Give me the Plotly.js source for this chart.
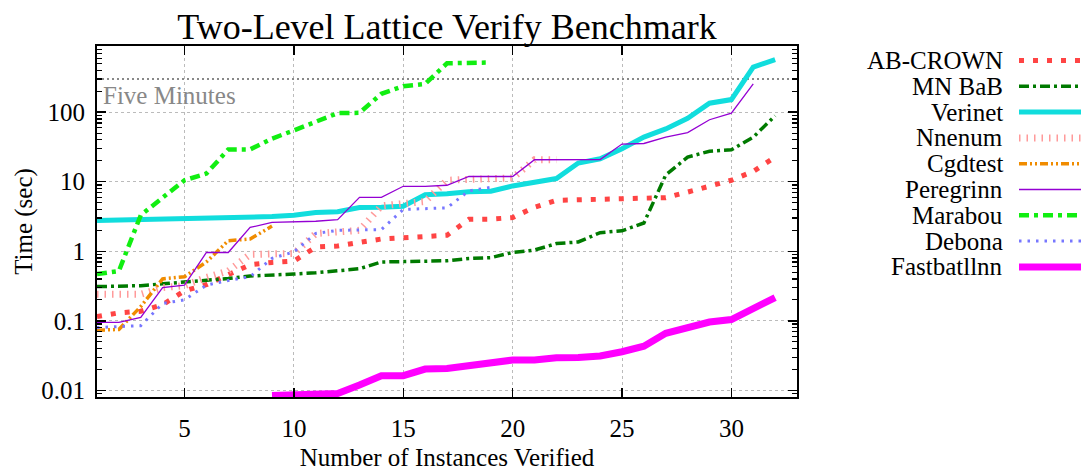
<!DOCTYPE html>
<html>
<head>
<meta charset="utf-8">
<script src="https://cdn.plot.ly/plotly-3.0.1.min.js"></script>
<style>
  html, body { margin: 0; padding: 0; background: #ffffff; }
  #chart { width: 1085px; height: 471px; }
</style>
</head>
<body>
<div id="chart"></div>
<script>
// ---------------- data ----------------
const instances = [1, 2, 3, 4, 5, 6, 7, 8, 9, 10, 11, 12, 13, 14, 15, 16,
                   17, 18, 19, 20, 21, 22, 23, 24, 25, 26, 27, 28, 29, 30, 31, 32];

const abCrown = [0.115, 0.13, 0.137, 0.17, 0.27, 0.33, 0.46, 0.64, 0.69, 0.72, 1.15, 1.19,
                 1.34, 1.5, 1.56, 1.6, 1.7, 2.88, 2.9, 3.05, 4.3, 5.4, 5.5, 5.55, 5.6, 5.6,
                 5.9, 7.1, 8.7, 10.5, 14.1, 22.6];
const mnBab = [0.31, 0.315, 0.32, 0.34, 0.36, 0.38, 0.405, 0.44, 0.45, 0.47, 0.49, 0.53,
               0.56, 0.70, 0.71, 0.72, 0.73, 0.785, 0.81, 0.96, 1.04, 1.29, 1.36, 1.85,
               1.97, 2.55, 12.5, 22.6, 27.5, 28.8, 43.8, 89];
const verinet = [2.76, 2.8, 2.82, 2.85, 2.88, 2.92, 2.95, 3.0, 3.15, 3.29, 3.6, 3.7,
                 4.25, 4.3, 4.43, 6.5, 6.7, 7.2, 7.3, 8.7, 9.7, 11.1, 18.6, 21.4,
                 29.8, 43.8, 57.6, 82, 135, 152, 445, 573];
const nnenum = [0.24, 0.24, 0.24, 0.3, 0.32, 0.42, 0.52, 0.9, 0.92, 0.93, 1.8, 1.9,
                2.0, 4.5, 4.8, 5.2, 10.5, 11.1, 11.1, 11.3, 20.7, 20.7];
const cgdtest = [0.073, 0.075, 0.16, 0.4, 0.43, 0.7, 1.42, 1.5, 2.3];
const peregrinn = [0.095, 0.095, 0.112, 0.30, 0.325, 0.96, 0.96, 2.2, 2.6, 2.67, 2.7, 2.85,
                   5.95, 5.95, 8.6, 8.6, 8.9, 11.9, 11.9, 11.9, 20.7, 20.7, 20.7, 20.9,
                   34.8, 35.5, 43.8, 51, 78, 97, 255];
const marabou = [0.47, 0.52, 3.3, 6.0, 10.5, 13.1, 29.2, 29.2, 41.7, 54.8, 72, 97,
                 98, 184, 237, 255, 505, 520, 520];
const debona = [0.08, 0.083, 0.085, 0.177, 0.2, 0.325, 0.38, 0.43, 0.79, 0.98, 1.8, 2.0,
                2.0, 2.05, 4.0, 4.1, 4.2, 7.4, 8.3];
const fastbatStart = 9;
const fastbatllnn = [0.0084, 0.0086, 0.0087, 0.009, 0.0119, 0.0162, 0.0162, 0.0202,
                     0.0206, 0.0227, 0.0238, 0.0272, 0.0272, 0.0294, 0.0297, 0.0311,
                     0.0358, 0.043, 0.066, 0.078, 0.096, 0.104, 0.15, 0.216];

const fiveMinutes = 300;
const fiveMinutesLabel = 'Five Minutes';

const yTickVals = [0.01, 0.1, 1, 10, 100];
const yTickText = ['0.01', '0.1', '1', '10', '100'];

const seriesNames = ['AB-CROWN', 'MN BaB', 'Verinet', 'Nnenum', 'Cgdtest',
                     'Peregrinn', 'Marabou', 'Debona', 'Fastbatllnn'];

// ---------------- styles ----------------
const styles = [
  { color: '#ff4444', width: 5,   dash: '5px,9px' },
  { color: '#007a00', width: 3.5, dash: '10px,4px,3px,4px' },
  { color: '#11dddd', width: 5,   dash: 'solid' },
  { color: '#ff9a9a', width: 7,   dash: '1.5px,6px' },
  { color: '#f08c00', width: 3.5, dash: '8px,3px,2px,3px,2px,3px' },
  { color: '#9400d3', width: 1.3, dash: 'solid' },
  { color: '#11ee11', width: 4.5, dash: '10px,5px,4px,5px' },
  { color: '#7777ff', width: 3,   dash: '2.5px,6px' },
  { color: '#ff00ff', width: 7,   dash: 'solid' }
];

const seriesData = [abCrown, mnBab, verinet, nnenum, cgdtest, peregrinn, marabou, debona, fastbatllnn];
const seriesStart = [1, 1, 1, 1, 1, 1, 1, 1, fastbatStart];

const xRange = [1, 33];
const FONT = '"Liberation Serif", "DejaVu Serif", serif';

const traces = [];
// five minute reference line across the x range
traces.push({
  x: xRange, y: [fiveMinutes, fiveMinutes],
  mode: 'lines', showlegend: false, hoverinfo: 'skip',
  line: { color: '#888888', width: 2, dash: '2px,3px' }
});

seriesData.forEach((vals, i) => {
  const start = seriesStart[i];
  const xs = instances.slice(start - 1, start - 1 + vals.length);
  traces.push({
    x: xs, y: vals, name: seriesNames[i],
    mode: 'lines', type: 'scatter',
    line: { color: styles[i].color, width: styles[i].width, dash: styles[i].dash, shape: 'linear' },
    showlegend: false
  });
});

// minor y ticks (2..9 within every decade)
const minorVals = [];
for (let d = -3; d <= 2; d++) {
  for (let k = 2; k <= 9; k++) minorVals.push(k * Math.pow(10, d));
}

// plot-area geometry (px) used for the hand-made legend
const M = { l: 97, r: 288, t: 46, b: 74 };
const W = 1085, H = 471;
const plotW = W - M.l - M.r, plotH = H - M.t - M.b;
const px2paperX = px => (px - M.l) / plotW;
const py2paperY = py => (H - M.b - py) / plotH;

const annotations = [{
  text: fiveMinutesLabel, xref: 'paper', x: 0, xanchor: 'left', xshift: 4,
  yref: 'y', y: Math.log10(fiveMinutes), yanchor: 'top', yshift: -1,
  showarrow: false, font: { family: FONT, size: 25, color: '#888888' }
}];
const shapes = [];
const legendTop = 60.5, legendStep = 25.8;
seriesNames.forEach((n, i) => {
  const yy = py2paperY(legendTop + i * legendStep);
  annotations.push({
    text: n, xref: 'paper', x: px2paperX(1005), xanchor: 'right',
    yref: 'paper', y: yy, yanchor: 'middle', showarrow: false,
    font: { family: FONT, size: 25, color: '#000000' }
  });
  shapes.push({
    type: 'line', xref: 'paper', yref: 'paper',
    x0: px2paperX(1019), x1: px2paperX(1081), y0: yy, y1: yy,
    line: { color: styles[i].color, width: styles[i].width, dash: styles[i].dash }
  });
});

const layout = {
  width: W, height: H,
  margin: M,
  paper_bgcolor: '#ffffff', plot_bgcolor: '#ffffff',
  font: { family: FONT, size: 25, color: '#000000' },
  showlegend: false,
  title: {
    text: 'Two-Level Lattice Verify Benchmark',
    font: { family: FONT, size: 36, color: '#000000' },
    x: 0.5, xref: 'paper', y: 1 - 26 / H, yref: 'container', yanchor: 'middle'
  },
  xaxis: {
    range: xRange, tick0: 0, dtick: 5, tickmode: 'linear',
    ticks: 'inside', ticklen: 9, tickwidth: 1.5, tickcolor: '#000000',
    showline: true, linecolor: '#000000', linewidth: 2, mirror: 'ticks',
    showgrid: true, gridcolor: '#bbbbbb', griddash: 'dot', gridwidth: 1,
    zeroline: false, ticklabelstandoff: 8,
    tickfont: { family: FONT, size: 25 },
    title: { text: 'Number of Instances Verified', font: { family: FONT, size: 25 }, standoff: 8 }
  },
  yaxis: {
    type: 'log', range: [Math.log10(0.008), Math.log10(897)],
    tickmode: 'array', tickvals: yTickVals, ticktext: yTickText,
    ticks: 'inside', ticklen: 9, tickwidth: 1.5, tickcolor: '#000000',
    minor: { tickmode: 'array', tickvals: minorVals, ticks: 'inside', ticklen: 5,
             tickwidth: 1.2, tickcolor: '#000000', showgrid: false },
    showline: true, linecolor: '#000000', linewidth: 2, mirror: 'ticks',
    showgrid: true, gridcolor: '#bbbbbb', griddash: 'dot', gridwidth: 1,
    zeroline: false, ticklabelstandoff: 5,
    tickfont: { family: FONT, size: 25 },
    title: { text: 'Time (sec)', font: { family: FONT, size: 25 }, standoff: 2 }
  },
  annotations: annotations,
  shapes: shapes
};

Plotly.newPlot('chart', traces, layout, { displayModeBar: false, staticPlot: true });
</script>
</body>
</html>
